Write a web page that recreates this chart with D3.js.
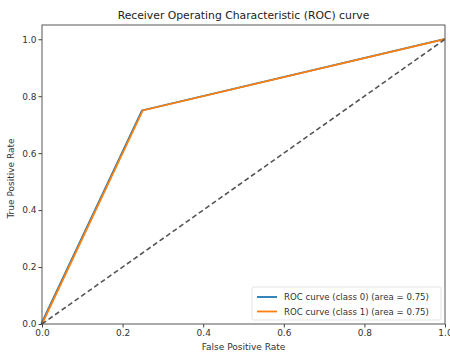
<!DOCTYPE html>
<html><head><meta charset="utf-8">
<script src="https://cdn.jsdelivr.net/npm/d3@7"></script>
<style>body{margin:0;background:#fff}svg{font-family:"DejaVu Sans",sans-serif}</style>
</head><body><svg id="c" width="450" height="356"></svg>
<script>
const fprClass0 = [0.0, 0.25, 1.0];
const tprClass0 = [0.0, 0.75, 1.0];
const fprClass1 = [0.0, 0.25, 1.0];
const tprClass1 = [0.0, 0.75, 1.0];
const seriesNames = ["ROC curve (class 0) (area = 0.75)", "ROC curve (class 1) (area = 0.75)"];
const seriesColors = ["#1f77b4", "#ff7f0e"];
const xTicks = [0.0, 0.2, 0.4, 0.6, 0.8, 1.0];
const yTicks = [0.0, 0.2, 0.4, 0.6, 0.8, 1.0];
const diagX = [0, 1], diagY = [0, 1];

const svg = d3.select("#c");
const m = {l:42, r:445, t:25, b:324};
const x = d3.scaleLinear().domain([0,1]).range([m.l, m.r]);
const y = d3.scaleLinear().domain([0,1.05]).range([m.b, m.t]);

const xa = svg.append("g").attr("transform",`translate(0,${m.b})`)
  .call(d3.axisBottom(x).tickValues(xTicks).tickFormat(d3.format(".1f")).tickSize(3.5).tickPadding(2));
const ya = svg.append("g").attr("transform",`translate(${m.l},0)`)
  .call(d3.axisLeft(y).tickValues(yTicks).tickFormat(d3.format(".1f")).tickSize(3.5).tickPadding(2));
[xa,ya].forEach(a=>{a.select(".domain").remove();a.selectAll("text").attr("font-size",9).attr("fill","#333").attr("font-family","DejaVu Sans");a.selectAll("line").attr("stroke","#444");});

const line = d3.line().x(d=>x(d[0])).y(d=>y(d[1]));
const data = [d3.zip(fprClass0,tprClass0), d3.zip(fprClass1,tprClass1)];
data.forEach((d,i)=>{
  svg.append("path").datum(d).attr("d",line).attr("fill","none")
    .attr("stroke",seriesColors[i]).attr("stroke-width",1.8)
    .attr("transform", i===0?"translate(-0.8,0)":null);
});
svg.append("path").datum(d3.zip(diagX,diagY)).attr("d",line).attr("fill","none")
  .attr("stroke","#555").attr("stroke-width",1.6).attr("stroke-dasharray","5,3");

svg.append("rect").attr("x",m.l).attr("y",m.t).attr("width",m.r-m.l).attr("height",m.b-m.t)
  .attr("fill","none").attr("stroke","#444").attr("stroke-width",0.9);

// legend
const lg = svg.append("g");
lg.append("rect").attr("x",252).attr("y",287).attr("width",189).attr("height",33)
  .attr("fill","#fff").attr("fill-opacity",0.8).attr("stroke","#ddd").attr("stroke-width",0.8).attr("rx",2);
seriesNames.forEach((n,i)=>{
  const yy = 297 + i*14.5;
  lg.append("line").attr("x1",257).attr("x2",277).attr("y1",yy).attr("y2",yy)
    .attr("stroke",seriesColors[i]).attr("stroke-width",1.8);
  lg.append("text").attr("x",284).attr("y",yy+3.2).attr("font-size",8.6).attr("fill","#333").text(n);
});

svg.append("text").attr("x",(m.l+m.r)/2).attr("y",19).attr("text-anchor","middle")
  .attr("font-size",10.8).attr("fill","#222").text("Receiver Operating Characteristic (ROC) curve");
svg.append("text").attr("x",(m.l+m.r)/2).attr("y",350).attr("text-anchor","middle")
  .attr("font-size",9).attr("fill","#333").text("False Positive Rate");
svg.append("text").attr("transform",`translate(14,${(m.t+m.b)/2+4}) rotate(-90)`).attr("text-anchor","middle")
  .attr("font-size",9).attr("fill","#333").text("True Positive Rate");
</script></body></html>
